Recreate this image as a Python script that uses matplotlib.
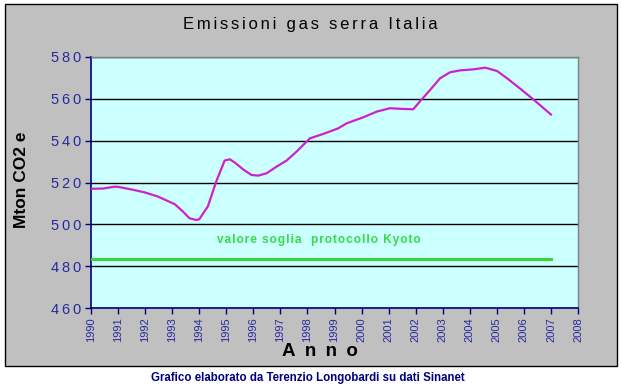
import matplotlib
matplotlib.use("Agg")
import matplotlib.pyplot as plt
from matplotlib.patches import Rectangle

# ---- data ----
years = [1990.0, 1990.44, 1990.87, 1991.0, 1991.49, 1991.98, 1992.47, 1993.1,
         1993.4, 1993.64, 1993.89, 1994.0, 1994.32, 1994.63, 1994.94, 1995.13,
         1995.32, 1995.62, 1995.93, 1996.18, 1996.49, 1996.86, 1997.23, 1997.6,
         1998.09, 1998.58, 1999.14, 1999.45, 2000.07, 2000.56, 2001.05, 2001.48,
         2001.91, 2002.16, 2002.53, 2002.9, 2003.27, 2003.64, 2004.14, 2004.57,
         2005.01, 2005.38, 2005.88, 2006.37, 2007.0]
emissions = [517.0, 517.1, 518.0, 517.9, 516.7, 515.3, 513.3, 509.6,
             506.1, 502.9, 502.1, 502.4, 508.6, 520.5, 530.5, 531.1,
             529.5, 526.3, 523.6, 523.3, 524.4, 527.6, 530.5, 534.8,
             541.1, 543.2, 545.9, 548.3, 551.2, 553.9, 555.5, 555.2,
             555.0, 558.8, 564.2, 569.8, 572.7, 573.6, 574.1, 574.9,
             573.3, 569.8, 564.7, 559.5, 552.5]
kyoto_years = [1990, 2007]
kyoto_value = [483.3, 483.3]
x_ticks = list(range(1990, 2009))
y_ticks = [460, 480, 500, 520, 540, 560, 580]

title = "Emissioni gas serra Italia"
xlabel = "Anno"
ylabel = "Mton CO2 e"
kyoto_label = "valore soglia  protocollo Kyoto"
credit = "Grafico elaborato da Terenzio Longobardi su dati Sinanet"

FAM = ["Liberation Sans", "DejaVu Sans"]
plt.rcParams["font.family"] = FAM


def spaced(s, sep="\u200a"):
    return sep.join(s)


W, H = 621, 385
fig = plt.figure(figsize=(W / 100, H / 100), dpi=100)
fig.patch.set_facecolor("white")

# gray chart frame
fig.patches.append(Rectangle((5 / W, 1 - 366 / H), 612 / W, 362 / H,
                             transform=fig.transFigure, facecolor="#C0C0C0",
                             edgecolor="black", lw=1.0, zorder=-10))

ax = fig.add_axes([91 / W, 1 - 308 / H, (578 - 91) / W, (308 - 57) / H])
ax.set_facecolor("#CCFFFF")

navy = "#000080"
ax.set_xlim(1990, 2008)
ax.set_ylim(460, 580)
ax.set_yticks(y_ticks)
ax.set_xticks(x_ticks)
ax.set_yticklabels([spaced(str(v), "\u2009") for v in y_ticks],
                   fontsize=10.5, color="#2828A0")
ax.set_xticklabels([str(v) for v in x_ticks], rotation=90,
                   fontsize=8, color="#2828A0")
ax.tick_params(axis="both", direction="out", length=4, color=navy, width=1)
ax.tick_params(axis="y", pad=3)
ax.tick_params(axis="x", pad=3)

for sp in ["left", "bottom"]:
    ax.spines[sp].set_color(navy)
    ax.spines[sp].set_linewidth(1.2)
for sp in ["top", "right"]:
    ax.spines[sp].set_color("#808080")
    ax.spines[sp].set_linewidth(1.0)

ax.yaxis.grid(True, color="black", lw=1.0)
ax.set_axisbelow(True)

ax.plot(years, emissions, color="#CC22CC", lw=1.6, zorder=3)
ax.plot(kyoto_years, kyoto_value, color="#3CD23C", lw=2.2, zorder=3)

ax.text(1994.66, 492.5, spaced(kyoto_label, "\u200a"), color="#33DD44",
        fontsize=8.5, fontweight="bold", ha="left", va="center")

fig.text(310 / W, 1 - 25 / H, spaced(title, "\u200a\u200a"), ha="center",
         va="center", fontsize=12, color="black")
fig.text(320 / W, 1 - 352 / H, spaced(xlabel, "\u2002"), ha="center",
         va="center", fontsize=13.5, fontweight="bold", color="black")
fig.text(22 / W, 1 - 180 / H, ylabel, ha="center", va="center",
         rotation=90, fontsize=12.5, fontweight="bold", color="black")
fig.text(308 / W, 1 - 378 / H, credit, ha="center", va="center",
         fontsize=8.3, fontweight="bold", color=navy)

fig.savefig("out.png", dpi=100, facecolor=fig.get_facecolor())
